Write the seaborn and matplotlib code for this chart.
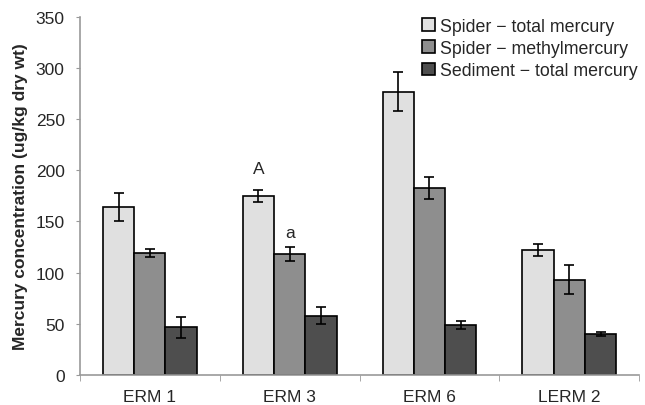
import pandas as pd
import numpy as np
import matplotlib.pyplot as plt
import seaborn as sns
from matplotlib.ticker import FixedLocator

sites = ["ERM 1", "ERM 3", "ERM 6", "LERM 2"]
series = ["Spider \u2212 total mercury", "Spider \u2212 methylmercury", "Sediment \u2212 total mercury"]
spider_total = [164, 175, 277, 122]
spider_methyl = [119.5, 118, 182.5, 93]
sediment_total = [46.5, 58, 49, 40]
err_spider_total = [14, 6, 19, 6]
err_spider_methyl = [4, 7, 11, 14]
err_sediment_total = [10, 8, 4, 1.5]
colours = ["#e0e0e0", "#8e8e8e", "#4e4e4e"]

sns.set_style("white")
plt.rcParams['font.family'] = ['Liberation Sans', 'DejaVu Sans']

df = pd.DataFrame({
    "site": sites * 3,
    "serie": [series[0]] * 4 + [series[1]] * 4 + [series[2]] * 4,
    "valore": spider_total + spider_methyl + sediment_total,
    "errore": err_spider_total + err_spider_methyl + err_sediment_total,
})

fig = plt.figure(figsize=(6.45, 4.06), dpi=100)
ax = fig.add_axes([0.124, 0.074, 0.867, 0.882])
sns.barplot(data=df, x="site", y="valore", hue="serie", palette=colours,
            width=0.67, edgecolor="black", linewidth=1.2, ax=ax, errorbar=None,
            saturation=1)

# barre d'errore sulle posizioni delle barre
for i, s in enumerate(series):
    sub = df[df["serie"] == s]
    cont = ax.containers[i]
    xs = [p.get_x() + p.get_width() / 2 for p in cont.patches]
    ax.errorbar(xs, sub["valore"], yerr=sub["errore"], fmt="none",
                ecolor="black", elinewidth=1.2, capsize=3.5, capthick=1.2)

ax.text(1 - 0.67 / 3, 197, "A", ha="center", va="baseline", fontsize=12.5)
ax.text(1, 135, "a", ha="center", va="baseline", fontsize=12.5)

ax.set_ylim(0, 350)
ax.set_xlim(-0.5, 3.5)
ax.set_yticks(np.arange(0, 351, 50))
ax.tick_params(axis="y", labelsize=12.5, length=3, color="#999999", direction="out", left=True, pad=8)
ax.tick_params(axis="x", which="major", labelsize=12.5, length=0, pad=10)
ax.xaxis.set_minor_locator(FixedLocator([-0.5, 0.5, 1.5, 2.5, 3.5]))
ax.tick_params(axis="x", which="minor", length=4, color="#999999", direction="out", bottom=True)
for lato in ["top", "right"]:
    ax.spines[lato].set_visible(False)
for lato in ["left", "bottom"]:
    ax.spines[lato].set_color("#999999")
    ax.spines[lato].set_linewidth(1.2)

ax.set_xlabel("")
ax.set_ylabel("Mercury concentration (ug/kg dry wt)", fontsize=12.5, fontweight="bold", labelpad=6)
ax.yaxis.set_label_coords(-0.093, 0.5)
ax.legend(title=None, loc="upper right", bbox_to_anchor=(1.01, 1.018), frameon=False,
          fontsize=12.8, handlelength=0.7, handleheight=0.7, handletextpad=0.3,
          labelspacing=0.3, borderaxespad=0)

plt.savefig("out.png", dpi=100)
